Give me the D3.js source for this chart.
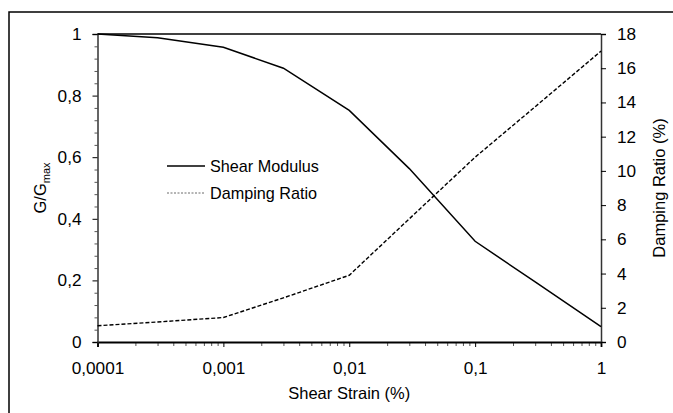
<!DOCTYPE html>
<html>
<head>
<meta charset="utf-8">
<script src="https://cdn.jsdelivr.net/npm/d3@7"></script>
<style>
  html, body { margin: 0; padding: 0; background: #fff; }
  svg { display: block; font-family: "Liberation Sans", Arial, sans-serif; }
</style>
</head>
<body>
<svg id="chart" width="673" height="413"></svg>
<script>
// Shear strain (%) at which the curves are evaluated
const strain = [0.0001, 0.0003, 0.001, 0.003, 0.01, 0.03, 0.1, 0.3, 1];
// Normalised shear modulus G/Gmax
const shearModulus = [1, 0.988, 0.957, 0.889, 0.752, 0.563, 0.327, 0.195, 0.05];
// Damping ratio (%)
const dampingRatio = [0.95, 1.17, 1.43, 2.58, 3.9, 7.2, 10.8, 13.75, 17];

const xTickValues = [0.0001, 0.001, 0.01, 0.1, 1];
const xTickLabels = ["0,0001", "0,001", "0,01", "0,1", "1"];
const gTickValues = [0, 0.2, 0.4, 0.6, 0.8, 1];
const gTickLabels = ["0", "0,2", "0,4", "0,6", "0,8", "1"];
const dTickValues = [0, 2, 4, 6, 8, 10, 12, 14, 16, 18];

const svg = d3.select("#chart");
const m = { left: 97.5, right: 601, top: 34, bottom: 342 };

const x = d3.scaleLog().domain([0.0001, 1]).range([m.left, m.right]);
const yG = d3.scaleLinear().domain([0, 1]).range([m.bottom, m.top]);
const yD = d3.scaleLinear().domain([0, 18]).range([m.bottom, m.top]);

// outer frame
svg.append("rect")
  .attr("x", 9).attr("y", 12).attr("width", 800).attr("height", 600)
  .attr("fill", "none").attr("stroke", "#000").attr("stroke-width", 1.5);

// top edge of plot area
svg.append("line")
  .attr("x1", m.left).attr("x2", m.right).attr("y1", m.top).attr("y2", m.top)
  .attr("stroke", "#000").attr("stroke-width", 1.5);

const fontSize = 17.2;

// minor ticks on x (log subdivisions)
const minorX = [];
for (let e = -4; e < 0; e++) {
  for (let k = 2; k <= 9; k++) minorX.push(k * Math.pow(10, e));
}
svg.append("g").attr("transform", `translate(0,${m.bottom})`)
  .call(d3.axisBottom(x).tickValues(minorX).tickSize(4).tickFormat(""))
  .call(g => g.select(".domain").remove())
  .call(g => g.selectAll("line").attr("stroke", "#555"));

// x axis
svg.append("g").attr("transform", `translate(0,${m.bottom})`)
  .call(d3.axisBottom(x).tickValues(xTickValues).tickSizeOuter(0).tickSize(5).tickPadding(15)
    .tickFormat((d, i) => xTickLabels[i]))
  .call(g => g.select(".domain").attr("stroke", "#000").attr("stroke-width", 1.8))
  .call(g => g.selectAll("text").attr("font-size", fontSize).attr("fill", "#000")
    .attr("font-family", "Liberation Sans, Arial, sans-serif"));

// minor ticks on left axis
const minorG = d3.range(0, 1.0001, 0.04).filter(v => Math.abs(v * 5 - Math.round(v * 5)) > 1e-6);
svg.append("g").attr("transform", `translate(${m.left},0)`)
  .call(d3.axisLeft(yG).tickValues(minorG).tickSize(3).tickFormat(""))
  .call(g => g.select(".domain").remove())
  .call(g => g.selectAll("line").attr("stroke", "#555"));

// left axis
svg.append("g").attr("transform", `translate(${m.left},0)`)
  .call(d3.axisLeft(yG).tickValues(gTickValues).tickSizeOuter(0).tickSize(5).tickPadding(11)
    .tickFormat((d, i) => gTickLabels[i]))
  .call(g => g.select(".domain").attr("stroke", "#333").attr("stroke-width", 1.5))
  .call(g => g.selectAll("text").attr("font-size", fontSize).attr("fill", "#000")
    .attr("font-family", "Liberation Sans, Arial, sans-serif"));

// right axis
svg.append("g").attr("transform", `translate(${m.right},0)`)
  .call(d3.axisRight(yD).tickValues(dTickValues).tickSizeOuter(0).tickSize(5).tickPadding(11)
    .tickFormat(d3.format("d")))
  .call(g => g.select(".domain").attr("stroke", "#333").attr("stroke-width", 1.5))
  .call(g => g.selectAll("text").attr("font-size", fontSize).attr("fill", "#000")
    .attr("font-family", "Liberation Sans, Arial, sans-serif"));

// curves
const lineG = d3.line().x((d, i) => x(strain[i])).y(d => yG(d));
const lineD = d3.line().x((d, i) => x(strain[i])).y(d => yD(d));

svg.append("path").datum(shearModulus)
  .attr("d", lineG).attr("fill", "none").attr("stroke", "#000").attr("stroke-width", 1.5);

svg.append("path").datum(dampingRatio)
  .attr("d", lineD).attr("fill", "none").attr("stroke", "#000").attr("stroke-width", 1.4)
  .attr("stroke-dasharray", "4,2");

// legend
const legend = svg.append("g");
legend.append("line").attr("x1", 167).attr("x2", 205).attr("y1", 166).attr("y2", 166)
  .attr("stroke", "#000").attr("stroke-width", 1.3);
legend.append("text").attr("x", 210).attr("y", 172).attr("font-size", 16.2).text("Shear Modulus");
legend.append("line").attr("x1", 167).attr("x2", 205).attr("y1", 193).attr("y2", 193)
  .attr("stroke", "#444").attr("stroke-width", 0.8).attr("stroke-dasharray", "2,1.5");
legend.append("text").attr("x", 210).attr("y", 199).attr("font-size", 16.2).text("Damping Ratio");

// axis titles
svg.append("text").attr("x", (m.left + m.right) / 2).attr("y", 399)
  .attr("text-anchor", "middle").attr("font-size", 16.5).text("Shear Strain (%)");

const gTitle = svg.append("text")
  .attr("transform", "translate(46,188) rotate(-90)")
  .attr("text-anchor", "middle").attr("font-size", 16.5);
gTitle.append("tspan").text("G/G");
gTitle.append("tspan").attr("font-size", 11).attr("dy", 4).text("max");

svg.append("text")
  .attr("transform", "translate(665,188) rotate(-90)")
  .attr("text-anchor", "middle").attr("font-size", 16.5).text("Damping Ratio (%)");
</script>
</body>
</html>
